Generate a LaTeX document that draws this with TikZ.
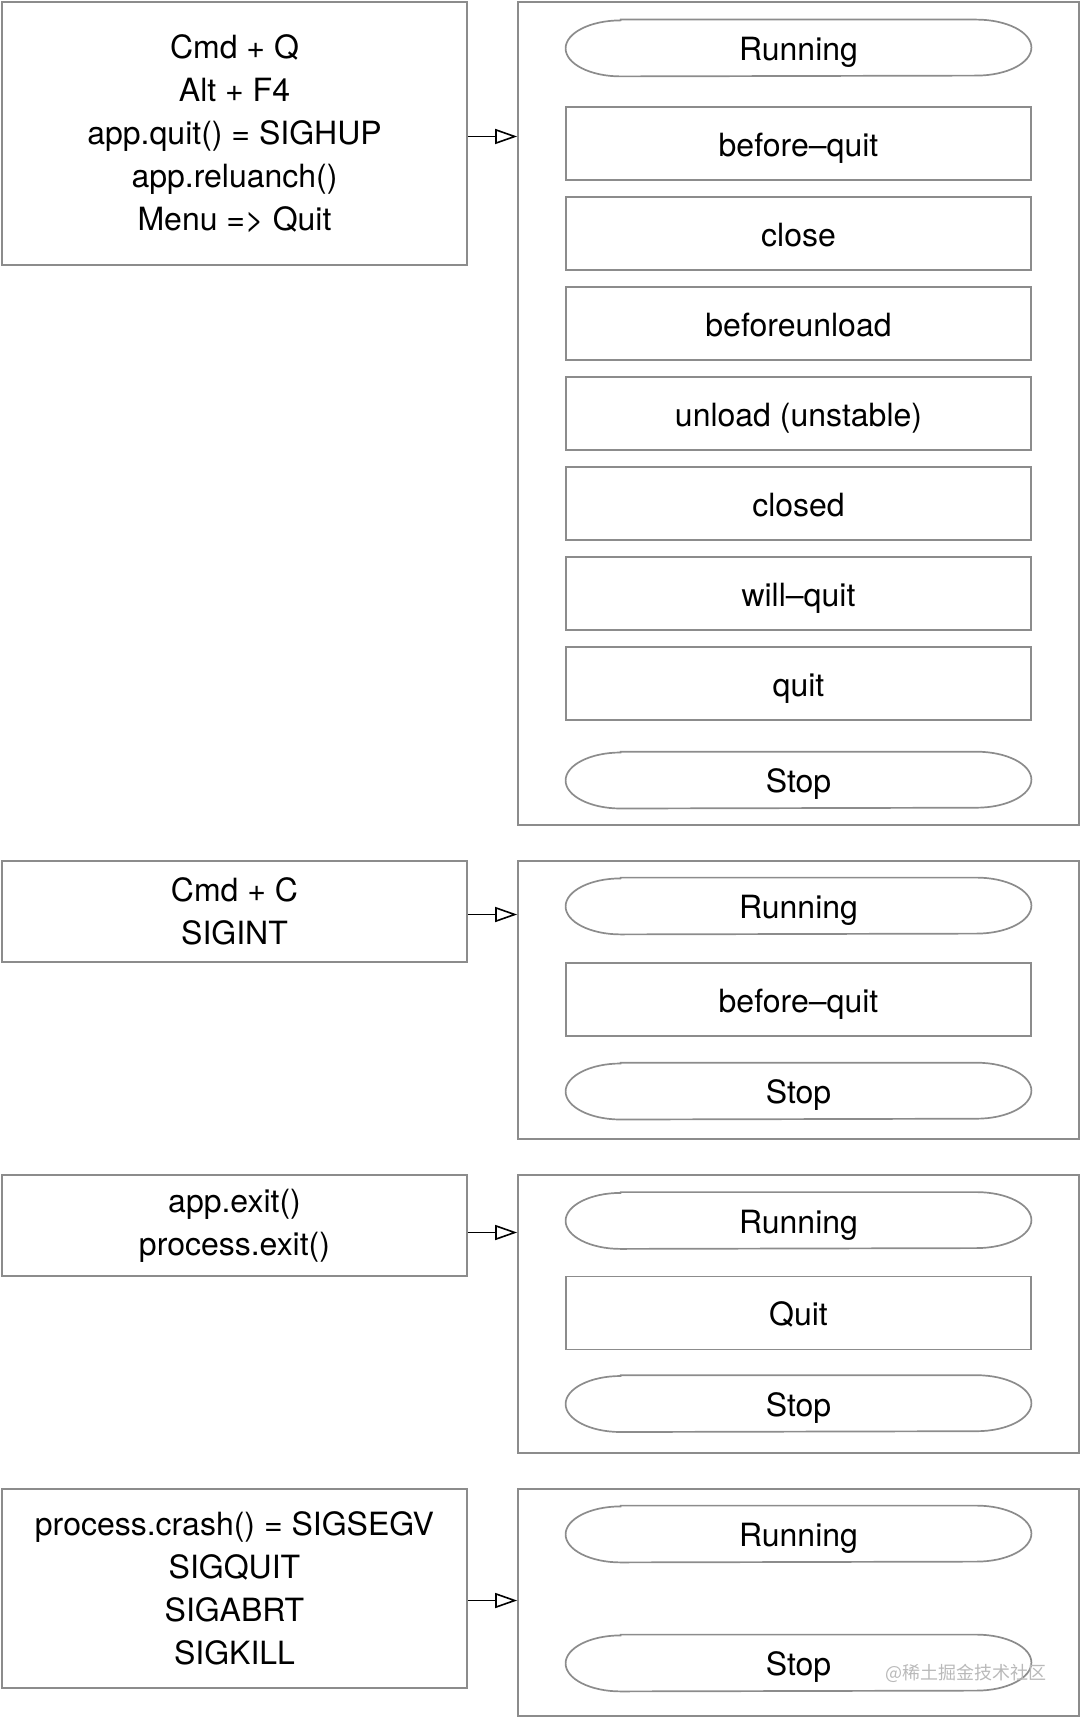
\documentclass[tikz,border=0pt]{standalone}
\usepackage{fontspec}
\setmainfont{TeX Gyre Heros}
\newfontfamily\cjk{Noto Sans CJK SC}
\usetikzlibrary{positioning,arrows.meta}
\definecolor{edgegray}{HTML}{8C8C8C}
\tikzset{%
cause/.style={draw=edgegray,line width=0.85pt,rectangle,minimum width=232.5pt,minimum height=#1,align=center,inner sep=0},
stage/.style={draw=edgegray,line width=0.85pt,rectangle,minimum width=280.5pt,minimum height=#1,inner sep=0},
event/.style={draw=edgegray,line width=0.85pt,rectangle,minimum width=232.5pt,minimum height=36.5pt,inner sep=0,text height=13pt,text depth=0.5pt},
terminal/.style={rectangle,minimum width=232.5pt,minimum height=28pt,inner sep=0,text height=13pt,text depth=0.5pt},
trigger/.style={draw=black,line width=0.8pt,-{Triangle[open,length=11pt,width=7.5pt]}},
every node/.style={font=\fontsize{16pt}{21.5pt}\selectfont}
}
\begin{document}
\begin{tikzpicture}[x=0.5pt,y=-0.5pt,node distance=7.65pt]
  \useasboundingbox (0,0) rectangle (1080,1717);

  % what makes the app stop
  \node[cause=131.5pt] (cause1) at (234.5,133.5) {Cmd + Q\\Alt + F4\\app.quit() = SIGHUP\\app.reluanch()\\Menu => Quit};
  \node[cause=50.5pt] (cause2) at (234.5,911.5) {Cmd + C\\SIGINT};
  \node[cause=50.5pt] (cause3) at (234.5,1225.5) {app.exit()\\process.exit()};
  \node[cause=99.5pt] (cause4) at (234.5,1588.5) {process.crash() = SIGSEGV\\SIGQUIT\\SIGABRT\\SIGKILL};

  % the stages it goes through
  \node[stage=411.5pt] (stage1) at (798.5,413.5) {};
  \node[stage=139pt] (stage2) at (798.5,1000) {};
  \node[stage=139pt] (stage3) at (798.5,1314) {};
  \node[stage=113.5pt] (stage4) at (798.5,1602.5) {};

  \node[terminal] (run1) at (798.5,48) {Running};
  \node[event,below=14.9pt of run1] (bq1) {before–quit};
  \node[event,below=of bq1] (close1) {close};
  \node[event,below=of close1] (bu1) {beforeunload};
  \node[event,below=of bu1] (unload1) {unload (unstable)};
  \node[event,below=of unload1] (closed1) {closed};
  \node[event,below=of closed1] (wq1) {will–quit};
  \node[event,below=of wq1] (quit1) {quit};
  \node[terminal,below=15.4pt of quit1] (stop1) {Stop};

  \node[terminal] (run2) at (798.5,906) {Running};
  \node[event,below=13.9pt of run2] (bq2) {before–quit};
  \node[terminal,below=12.9pt of bq2] (stop2) {Stop};

  \node[terminal] (run3) at (798.5,1220.5) {Running};
  \node[event,below=13.4pt of run3] (quit3) {Quit};
  \node[terminal,below=12.4pt of quit3] (stop3) {Stop};

  \node[terminal] (run4) at (798.5,1534) {Running};
  \node[terminal] (stop4) at (798.5,1663) {Stop};

  % outline of the start and end shapes
  \foreach \n in {run1,stop1,run2,stop2,run3,stop3,run4,stop4}
    \draw[edgegray,line width=0.85pt]
      ([xshift=27.5pt]\n.north west) -- ([xshift=-27.5pt]\n.north east)
      arc[start angle=90,end angle=-90,x radius=27.5pt,y radius=14pt]
      -- ([xshift=27.5pt]\n.south west)
      arc[start angle=270,end angle=90,x radius=27.5pt,y radius=14pt] -- cycle;

  \foreach \i/\d in {1/-1.5pt,2/-1.5pt,3/-3.5pt,4/-6pt}
    \draw[trigger] ([yshift=\d]cause\i.east) -- ([yshift=\d]cause\i.east -| stage\i.west);

  \node[font=\cjk\fontsize{9pt}{11pt}\selectfont,text=gray!55,anchor=west,inner sep=0] (mark) at (885,1673) {@稀土掘金技术社区};
\end{tikzpicture}
\end{document}
